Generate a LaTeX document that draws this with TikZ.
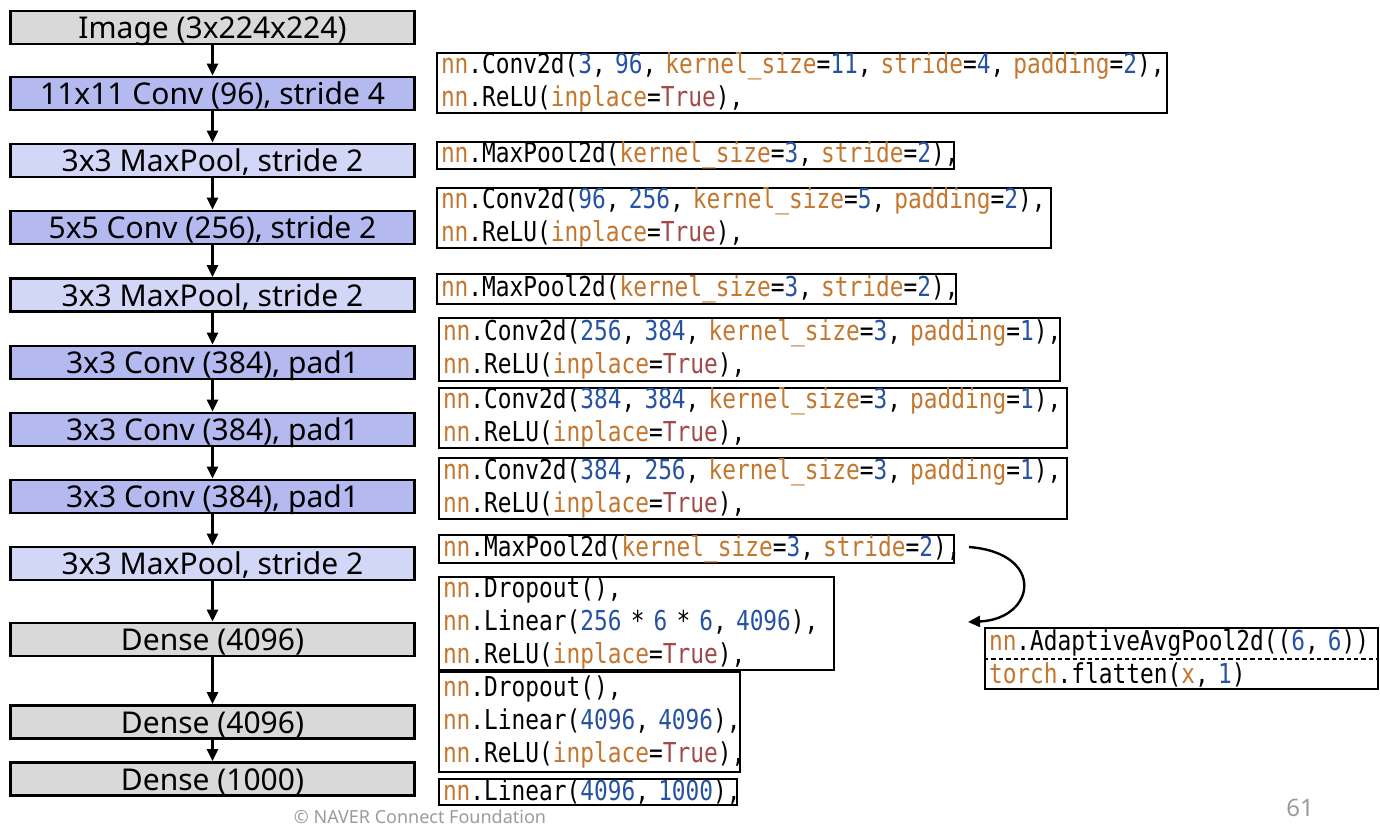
\documentclass[tikz,border=0pt]{standalone}
\usepackage{fontspec}
\setmainfont{Noto Sans}
\newfontfamily\codefont{DejaVu Sans Mono}[FakeStretch=0.833]
\usetikzlibrary{arrows.meta}

\definecolor{densegray}{RGB}{217,217,217}
\definecolor{convblue}{RGB}{180,186,240}
\definecolor{poolblue}{RGB}{210,215,247}
\definecolor{kwcol}{RGB}{196,118,46}
\definecolor{numcol}{RGB}{38,82,163}
\definecolor{truecol}{RGB}{163,72,72}
\definecolor{footgray}{RGB}{155,155,155}

\newcommand\kw[1]{\textcolor{kwcol}{#1}}
\newcommand\nm[1]{\textcolor{numcol}{#1}}
\newcommand\tv[1]{\textcolor{truecol}{#1}}
\newcommand\us{\char"5F\relax}
\newcommand\codeln[1]{\mbox{#1}}
\newcommand\relu{\codeln{\kw{nn}.ReLU(\kw{inplace}=\tv{True}),}}
\newcommand\maxpool{\codeln{\kw{nn}.MaxPool2d(\kw{kernel\us size}=\nm{3}, \kw{stride}=\nm{2}),}}

\begin{document}
\begin{tikzpicture}[x=0.5pt,y=-0.5pt,
      >={Triangle[length=6pt,width=5.5pt]},
      layer/.style={draw=black,line width=1.4pt,minimum width=202pt,minimum height=16.5pt,
        inner sep=0pt,text height=13pt,text depth=1.8pt,font=\fontsize{15}{18}\selectfont},
      dense/.style={layer,fill=densegray},
      conv/.style={layer,fill=convblue},
      pool/.style={layer,fill=poolblue},
      codebox/.style 2 args={draw=black,line width=1pt,anchor=north west,inner xsep=2pt,
        inner ysep=0pt,align=left,text width=#1,minimum height=#2,
        font=\fontsize{13.7}{16.5}\codefont},
      flow/.style={->,line width=1.2pt}]
    \useasboundingbox (0,0) rectangle (1380,830);
    % layer stack
    \node (img) [dense] at (212.5,27.5) {Image (3x224x224)};
    \node (conv1) [conv] at (212.5,93.5) {11x11 Conv (96), stride 4};
    \node (pool1) [pool] at (212.5,160.5) {3x3 MaxPool, stride 2};
    \node (conv2) [conv] at (212.5,227.5) {5x5 Conv (256), stride 2};
    \node (pool2) [pool] at (212.5,295) {3x3 MaxPool, stride 2};
    \node (conv3) [conv] at (212.5,362.5) {3x3 Conv (384), pad1};
    \node (conv4) [conv] at (212.5,429.5) {3x3 Conv (384), pad1};
    \node (conv5) [conv] at (212.5,496.5) {3x3 Conv (384), pad1};
    \node (pool3) [pool] at (212.5,563.5) {3x3 MaxPool, stride 2};
    \node (dense1) [dense] at (212.5,639.5) {Dense (4096)};
    \node (dense2) [dense] at (212.5,722) {Dense (4096)};
    \node (dense3) [dense] at (212.5,779) {Dense (1000)};
    \foreach \a/\b in {img/conv1,conv1/pool1,pool1/conv2,conv2/pool2,pool2/conv3,
        conv3/conv4,conv4/conv5,conv5/pool3,pool3/dense1,dense1/dense2,dense2/dense3}
      \draw [flow] (\a) -- (\b);
    % pytorch code
    \node (convcode1) [codebox={361pt}{28.5pt}] at (436,52)
      {\codeln{\kw{nn}.Conv2d(\nm{3}, \nm{96}, \kw{kernel\us size}=\nm{11}, \kw{stride}=\nm{4}, \kw{padding}=\nm{2}),}\\ \relu};
    \node (poolcode1) [codebox={254.5pt}{13pt}] at (436,141) {\maxpool};
    \node (convcode2) [codebox={303pt}{28.5pt}] at (436,187)
      {\codeln{\kw{nn}.Conv2d(\nm{96}, \nm{256}, \kw{kernel\us size}=\nm{5}, \kw{padding}=\nm{2}),}\\ \relu};
    \node (poolcode2) [codebox={255.5pt}{15pt}] at (436,273) {\maxpool};
    \node (convcode3) [codebox={306.5pt}{31.5pt}] at (438,317)
      {\codeln{\kw{nn}.Conv2d(\nm{256}, \nm{384}, \kw{kernel\us size}=\nm{3}, \kw{padding}=\nm{1}),}\\ \relu};
    \node (convcode4) [codebox={310pt}{29.5pt}] at (438,387)
      {\codeln{\kw{nn}.Conv2d(\nm{384}, \nm{384}, \kw{kernel\us size}=\nm{3}, \kw{padding}=\nm{1}),}\\ \relu};
    \node (convcode5) [codebox={310pt}{30.5pt}] at (438,457)
      {\codeln{\kw{nn}.Conv2d(\nm{384}, \nm{256}, \kw{kernel\us size}=\nm{3}, \kw{padding}=\nm{1}),}\\ \relu};
    \node (poolcode3) [codebox={253.5pt}{14pt}] at (438,534) {\maxpool};
    \node (fccode1) [codebox={193.5pt}{46pt}] at (438,576)
      {\codeln{\kw{nn}.Dropout(),}\\ \codeln{\kw{nn}.Linear(\nm{256} * \nm{6} * \nm{6}, \nm{4096}),}\\ \relu};
    \node (fccode2) [codebox={146.5pt}{50pt}] at (438,671)
      {\codeln{\kw{nn}.Dropout(),}\\ \codeln{\kw{nn}.Linear(\nm{4096}, \nm{4096}),}\\ \relu};
    \node (fccode3) [codebox={145pt}{13pt}] at (438,778)
      {\codeln{\kw{nn}.Linear(\nm{4096}, \nm{1000}),}};
    % avgpool + flatten
    \node (avg) [codebox={192.5pt}{30.5pt}] at (984,627)
      {\codeln{\kw{nn}.AdaptiveAvgPool2d((\nm{6}, \nm{6}))}\\ \codeln{\kw{torch}.flatten(\kw{x}, \nm{1})}};
    \draw [line width=1pt,dash pattern=on 2.2pt off 1.5pt] (avg.west) -- (avg.east);
    \coordinate (bendstart) at ([xshift=7pt,yshift=1pt]poolcode3.east);
    \coordinate (bendend) at ([xshift=-8pt,yshift=2.5pt]avg.north west);
    \draw [flow] (bendstart) .. controls +(38.5pt,-3pt) and +(34pt,1.5pt) .. (bendend);
    % footer
    \node (copyright) [text=footgray,font=\fontsize{9}{11}\selectfont] at (420,817) {© NAVER Connect Foundation};
    \node (pagenum) [text=footgray,font=\fontsize{12}{14}\selectfont] at (1300,808) {61};
\end{tikzpicture}
\end{document}
